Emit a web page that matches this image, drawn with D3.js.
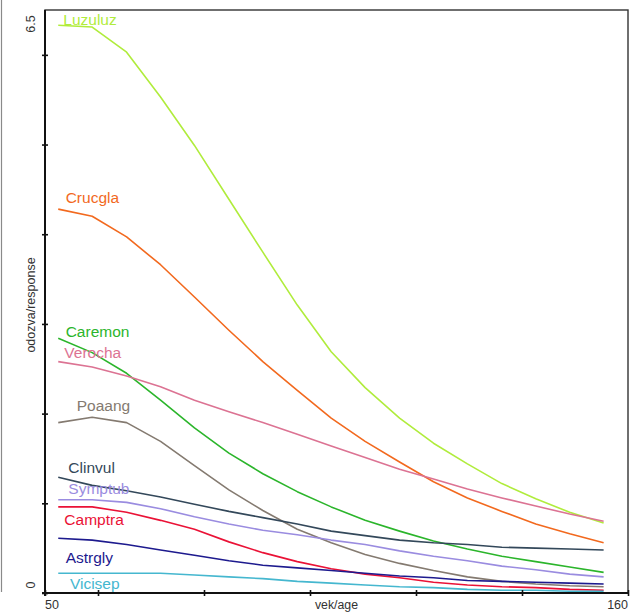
<!DOCTYPE html>
<html>
<head>
<meta charset="utf-8">
<script src="https://cdn.jsdelivr.net/npm/d3@7"></script>
<style>
  html, body { margin: 0; padding: 0; background: #fff; }
  svg { display: block; }
  text { font-family: "Liberation Sans", Arial, sans-serif; }
</style>
</head>
<body>
<svg id="chart" width="641" height="616"></svg>
<script>
// Ages at which the fitted responses are evaluated
const ages = [52.5, 58.9, 65.4, 71.8, 78.2, 84.7, 91.1, 97.6, 104.0,
              110.4, 116.9, 123.3, 129.7, 136.2, 142.6, 149.0, 155.4];

const species = ["Luzuluz", "Crucgla", "Caremon", "Verocha", "Poaang",
                 "Clinvul", "Symptub", "Camptra", "Astrgly", "Vicisep"];

const colors = ["#b0ec3c", "#f2691e", "#2bb52b", "#dc7393", "#847a70",
                "#33485a", "#9a8ce0", "#ea1236", "#1d1a8e", "#45b7cf"];

// Response curves, one row per species (same order as `species`)
const luzuluz = [6.33, 6.31, 6.03, 5.53, 4.99, 4.39, 3.80, 3.21, 2.69, 2.29, 1.95, 1.67, 1.44, 1.22, 1.05, 0.90, 0.78];
const crucgla = [4.28, 4.20, 3.97, 3.66, 3.30, 2.93, 2.58, 2.26, 1.95, 1.69, 1.46, 1.24, 1.06, 0.91, 0.77, 0.66, 0.56];
const caremon = [2.84, 2.68, 2.45, 2.15, 1.84, 1.56, 1.33, 1.13, 0.96, 0.81, 0.69, 0.58, 0.49, 0.41, 0.35, 0.29, 0.23];
const verocha = [2.58, 2.52, 2.42, 2.30, 2.15, 2.02, 1.90, 1.77, 1.64, 1.51, 1.38, 1.27, 1.16, 1.06, 0.97, 0.88, 0.80];
const poaang  = [1.90, 1.96, 1.90, 1.69, 1.42, 1.15, 0.92, 0.71, 0.56, 0.43, 0.33, 0.25, 0.18, 0.13, 0.10, 0.08, 0.07];
const clinvul = [1.29, 1.20, 1.14, 1.07, 0.99, 0.91, 0.84, 0.77, 0.69, 0.64, 0.59, 0.56, 0.54, 0.51, 0.50, 0.49, 0.48];
const symptub = [1.04, 1.04, 1.01, 0.94, 0.85, 0.77, 0.70, 0.65, 0.59, 0.54, 0.47, 0.41, 0.36, 0.30, 0.26, 0.21, 0.18];
const camptra = [0.96, 0.96, 0.90, 0.81, 0.71, 0.57, 0.45, 0.35, 0.27, 0.21, 0.17, 0.12, 0.09, 0.07, 0.06, 0.04, 0.03];
const astrgly = [0.61, 0.59, 0.54, 0.48, 0.42, 0.36, 0.31, 0.28, 0.25, 0.22, 0.19, 0.17, 0.14, 0.13, 0.12, 0.11, 0.10];
const vicisep = [0.22, 0.22, 0.22, 0.22, 0.20, 0.18, 0.16, 0.13, 0.11, 0.09, 0.07, 0.06, 0.04, 0.03, 0.03, 0.02, 0.02];

const seriesValues = [luzuluz, crucgla, caremon, verocha, poaang,
                      clinvul, symptub, camptra, astrgly, vicisep];

// Anchor of each species label (age, response) in data units
const labelAge   = [53.45, 53.9, 53.9, 53.65, 55.98, 54.4, 54.4, 53.65, 53.9, 54.7];
const labelValue = [6.39, 4.41, 2.92, 2.68, 2.09, 1.40, 1.16, 0.82, 0.40, 0.11];

const xTicks = [50, 60, 80, 100, 120, 140, 160];
const xTickLabels = ["50", "160"];
const yTicks = [0, 1, 2, 3, 4, 5, 6];
const yTickLabels = ["0", "6.5"];
const xTitle = "vek/age";
const yTitle = "odozva/response";

const svg = d3.select("#chart");
const m = { left: 45, right: 628, top: 10, bottom: 593 };

const x = d3.scaleLinear().domain([50, 160]).range([m.left, m.right]);
const y = d3.scaleLinear().domain([0, 6.5]).range([m.bottom, m.top]);

// thin frame line at the far left edge
svg.append("line")
  .attr("x1", 1.5).attr("x2", 1.5).attr("y1", 0).attr("y2", 592)
  .attr("stroke", "#8a8a8a").attr("stroke-width", 1.2);

// plot box
svg.append("rect")
  .attr("x", m.left).attr("y", m.top)
  .attr("width", m.right - m.left).attr("height", m.bottom - m.top)
  .attr("fill", "none").attr("stroke", "#333").attr("stroke-width", 1.4);

// curves
const line = d3.line()
  .x((d, i) => x(ages[i]))
  .y(d => y(d));

svg.append("g").selectAll("path")
  .data(seriesValues)
  .join("path")
  .attr("d", d => line(d))
  .attr("fill", "none")
  .attr("stroke", (d, i) => colors[i])
  .attr("stroke-width", 1.6)
  .attr("stroke-linejoin", "round");

// species labels
svg.append("g").selectAll("text")
  .data(species)
  .join("text")
  .attr("x", (d, i) => x(labelAge[i]))
  .attr("y", (d, i) => y(labelValue[i]))
  .attr("dy", "0.35em")
  .attr("fill", (d, i) => colors[i])
  .attr("font-size", 15.5)
  .text(d => d);

// x axis: ticks crossing the baseline, labels only at the ends
const xAxis = d3.axisBottom(x).tickValues(xTicks).tickSize(6).tickFormat("");
const gx = svg.append("g").attr("transform", `translate(0,${m.bottom - 3})`).call(xAxis);
gx.select(".domain").remove();
gx.selectAll(".tick line").attr("stroke", "#111").attr("stroke-width", 1.6);
svg.append("line")
  .attr("x1", m.left - 3).attr("x2", m.right)
  .attr("y1", m.bottom).attr("y2", m.bottom)
  .attr("stroke", "#111").attr("stroke-width", 2);

svg.append("text").attr("x", x(50)).attr("y", 609)
  .attr("font-size", 12.5).attr("fill", "#333").text(xTickLabels[0]);
svg.append("text").attr("x", x(160)).attr("y", 609)
  .attr("text-anchor", "end")
  .attr("font-size", 12.5).attr("fill", "#333").text(xTickLabels[1]);
svg.append("text").attr("x", (m.left + m.right) / 2).attr("y", 609)
  .attr("text-anchor", "middle")
  .attr("font-size", 12.3).attr("fill", "#333").text(xTitle);

// y axis
const yAxis = d3.axisLeft(y).tickValues(yTicks).tickSize(6).tickFormat("");
const gy = svg.append("g").attr("transform", `translate(${m.left + 3},0)`).call(yAxis);
gy.select(".domain").remove();
gy.selectAll(".tick line").attr("stroke", "#111").attr("stroke-width", 1.6);
svg.append("line")
  .attr("x1", m.left).attr("x2", m.left)
  .attr("y1", m.top).attr("y2", m.bottom + 3)
  .attr("stroke", "#111").attr("stroke-width", 2);

svg.append("text")
  .attr("transform", `translate(35,${y(0) - 8}) rotate(-90)`)
  .attr("text-anchor", "middle")
  .attr("font-size", 12.5).attr("fill", "#333").text(yTickLabels[0]);
svg.append("text")
  .attr("transform", `translate(35,${y(6.5) + 14}) rotate(-90)`)
  .attr("text-anchor", "middle")
  .attr("font-size", 12.5).attr("fill", "#333").text(yTickLabels[1]);
svg.append("text")
  .attr("transform", `translate(35,305) rotate(-90)`)
  .attr("text-anchor", "middle")
  .attr("font-size", 12.5).attr("fill", "#333").text(yTitle);
</script>
</body>
</html>
